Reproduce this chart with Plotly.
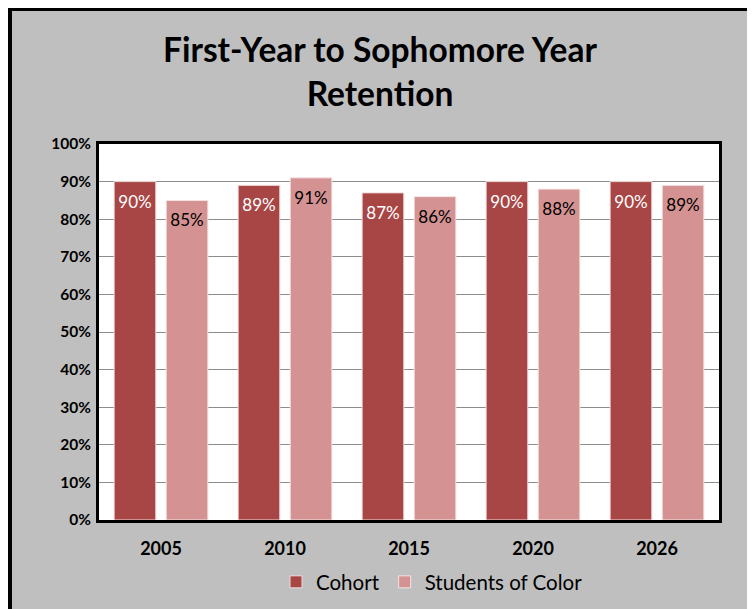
import plotly.graph_objects as go

years = ["2005", "2010", "2015", "2020", "2026"]
cohort = [0.90, 0.89, 0.87, 0.90, 0.90]
students_of_color = [0.85, 0.91, 0.86, 0.88, 0.89]
y_ticks = [0, 0.1, 0.2, 0.3, 0.4, 0.5, 0.6, 0.7, 0.8, 0.9, 1.0]

FONT = "Lato, Calibri, Carlito, 'Noto Sans', sans-serif"
# page is drawn with the browser's 8px body margin
W, H = 747, 601
L, R, T, B = 91, 36, 136, 89
pw, ph = W - L - R, H - T - B

def px_x(p):
    return (p - L) / pw

def px_y(p):
    return (H - B - p) / ph

def label(v):
    return "<span style='font-size:1px'>&nbsp;</span><br>" + f"{v:.0%}"

fig = go.Figure()
fig.add_trace(go.Bar(
    name="Cohort", x=years, y=cohort,
    marker=dict(color="#A84646", line=dict(color="#F0DADA", width=1)),
    text=[label(v) for v in cohort], textposition="inside", insidetextanchor="end",
    textangle=0, constraintext="none",
    textfont=dict(family=FONT, size=17, color="white"),
))
fig.add_trace(go.Bar(
    name="Students of Color", x=years, y=students_of_color,
    marker=dict(color="#D49292", line=dict(color="#F4E4E4", width=1)),
    text=[label(v) for v in students_of_color], textposition="inside", insidetextanchor="end",
    textangle=0, constraintext="none",
    textfont=dict(family=FONT, size=17, color="black"),
))

fig.update_layout(
    width=W, height=H,
    margin=dict(l=L, r=R, t=T, b=B, autoexpand=False),
    paper_bgcolor="white", plot_bgcolor="white",
    barmode="group", bargap=0.16, bargroupgap=0.2,
    title=dict(
        text="<b>First-Year to Sophomore Year<br>Retention</b>",
        font=dict(family=FONT, size=33.5, color="black"),
        xref="container", x=372 / W, xanchor="center",
        yref="container", y=1 - 54 / H, yanchor="middle",
    ),
    legend=dict(
        orientation="h", x=px_x(424), xanchor="center", y=px_y(574), yanchor="middle",
        font=dict(family=FONT, size=20.5, color="black"), bgcolor="rgba(0,0,0,0)",
        itemwidth=30, traceorder="normal",
    ),
    shapes=[
        dict(type="rect", xref="paper", yref="paper", layer="below",
             x0=px_x(2), x1=px_x(742), y0=px_y(640), y1=px_y(1),
             fillcolor="#BFBFBF", line=dict(color="black", width=4)),
        dict(type="rect", xref="paper", yref="paper", layer="below",
             x0=0, x1=1, y0=0, y1=1, fillcolor="white", line=dict(width=0)),
    ],
)
fig.update_xaxes(
    showline=True, linecolor="black", linewidth=3, mirror=True,
    showgrid=False, ticks="", ticklabelstandoff=10,
    tickfont=dict(family=FONT, size=18, color="black", weight="bold"),
)
fig.update_yaxes(
    range=[0, 1], tickvals=y_ticks, tickformat=".0%",
    showline=True, linecolor="black", linewidth=3, mirror=True,
    showgrid=True, gridcolor="#8C8C8C", gridwidth=1, zeroline=False,
    ticks="", ticklabelstandoff=2,
    tickfont=dict(family=FONT, size=15.5, color="black", weight="bold"),
)

fig.write_html("out.html")
